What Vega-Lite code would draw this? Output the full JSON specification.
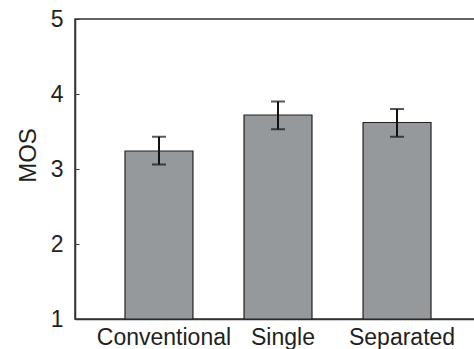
{
  "$schema": "https://vega.github.io/schema/vega-lite/v6.json",
  "autosize": "none",
  "padding": {"left": 75, "top": 19, "right": 0, "bottom": 30},
  "width": 406,
  "height": 300,
  "background": "white",
  "config": {
    "font": "Liberation Sans",
    "view": {"stroke": "#333333", "strokeWidth": 1.5},
    "axis": {"domainColor": "#333333", "domainWidth": 1.5, "tickColor": "#333333", "labelColor": "#231f20", "titleColor": "#231f20", "grid": false}
  },
  "data": {"values": [
    {"condition": "Conventional", "mos": 3.24, "lo": 3.06, "hi": 3.43},
    {"condition": "Single", "mos": 3.72, "lo": 3.53, "hi": 3.90},
    {"condition": "Separated", "mos": 3.62, "lo": 3.43, "hi": 3.80}
  ]},
  "encoding": {
    "x": {"field": "condition", "type": "nominal", "sort": null,
      "scale": {"paddingInner": 0.429, "paddingOuter": 0.42},
      "axis": {"title": null, "labelAngle": 0, "ticks": false, "labelFontSize": 23, "labelPadding": 7, "labelOffset": 5}}
  },
  "layer": [
    {
      "mark": {"type": "bar", "color": "#96999b", "stroke": "#231f20", "strokeWidth": 1.2},
      "encoding": {
        "y": {"field": "mos", "type": "quantitative",
          "scale": {"domain": [1, 5], "nice": false, "zero": false},
          "axis": {"title": "MOS", "titleFontSize": 24, "titleFontWeight": "normal",
            "titleX": -40, "titleY": 136, "titleBaseline": "alphabetic", "titleAngle": -90, "titleAlign": "center",
            "values": [1, 1.5, 2, 2.5, 3, 3.5, 4, 4.5, 5],
            "labelExpr": "datum.value % 1 === 0 ? format(datum.value, 'd') : ''",
            "tickSize": -4, "tickWidth": 1, "labelFontSize": 23, "labelPadding": 16}},
        "y2": {"datum": 1}
      }
    },
    {
      "mark": {"type": "rule", "color": "#111111", "strokeWidth": 2},
      "encoding": {"y": {"field": "lo", "type": "quantitative"}, "y2": {"field": "hi"}}
    },
    {
      "mark": {"type": "tick", "color": "#111111", "thickness": 2, "size": 14},
      "encoding": {"y": {"field": "lo", "type": "quantitative"}}
    },
    {
      "mark": {"type": "tick", "color": "#111111", "thickness": 2, "size": 14},
      "encoding": {"y": {"field": "hi", "type": "quantitative"}}
    }
  ]
}
